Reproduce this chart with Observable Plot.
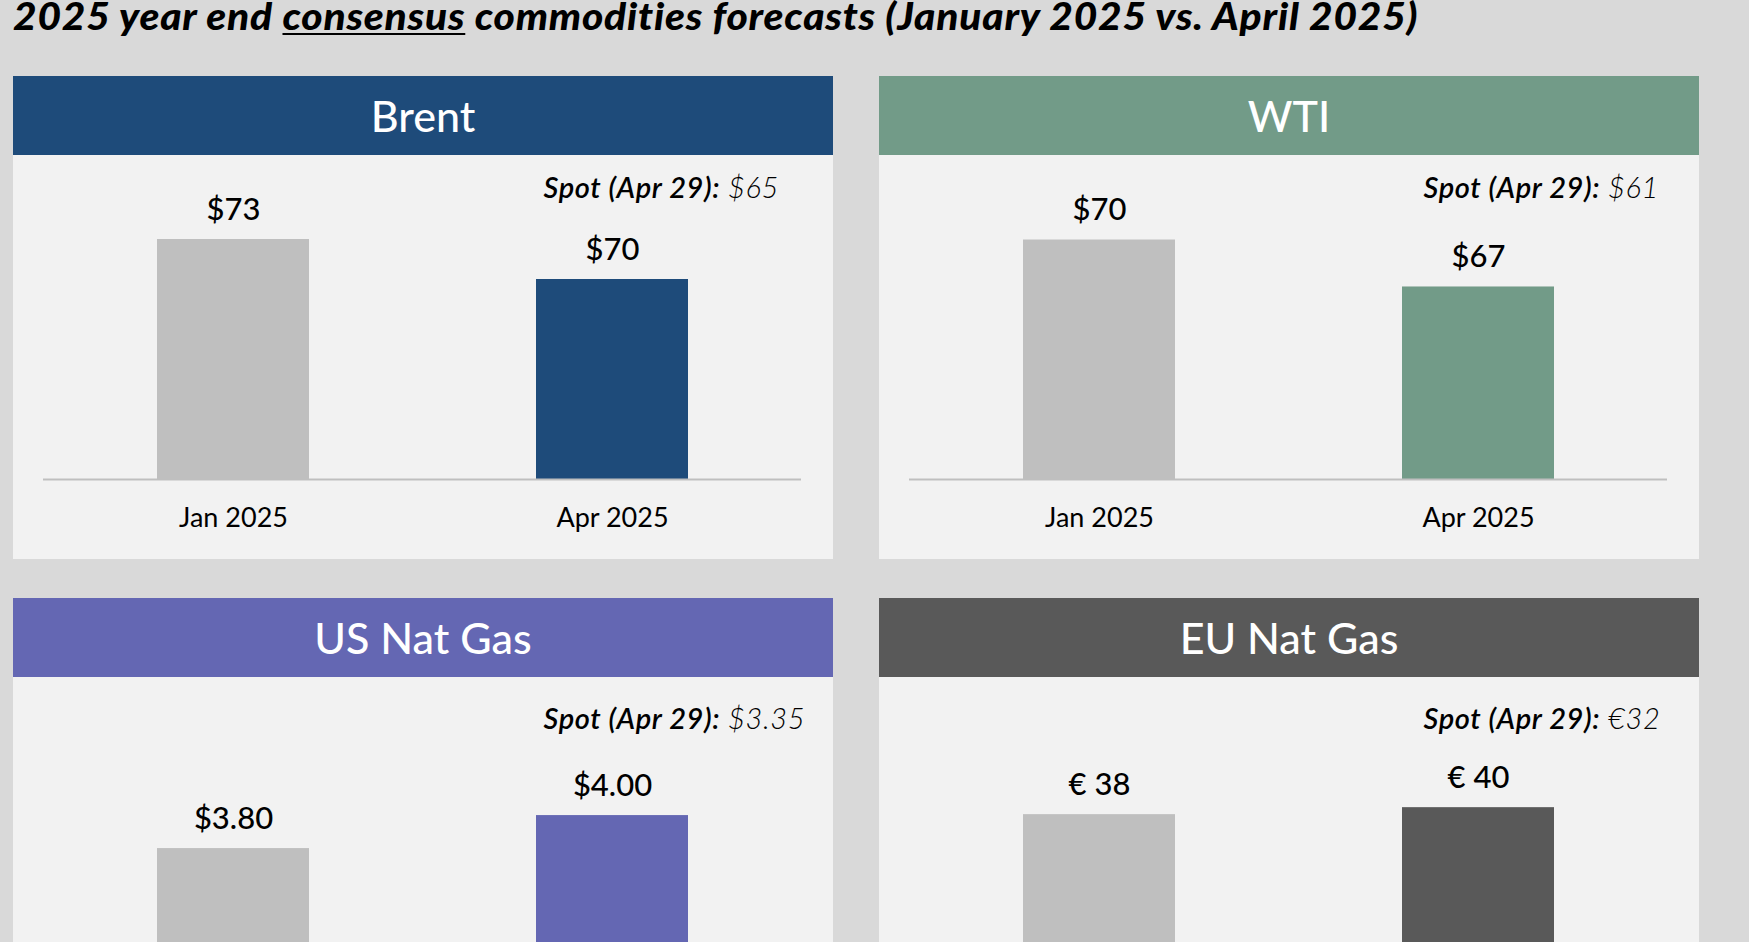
<!DOCTYPE html>
<html>
<head>
<meta charset="utf-8">
<script src="https://cdn.jsdelivr.net/npm/d3@7"></script>
<script src="https://cdn.jsdelivr.net/npm/@observablehq/plot@0.6"></script>
<style>
  html, body { margin: 0; padding: 0; }
  body {
    width: 1749px; height: 942px; overflow: hidden; position: relative;
    background: #d9d9d9; font-family: Lato, "Noto Sans", sans-serif; color: #000;
  }
  #title {
    position: absolute; left: 13px; top: -3px; margin: 0;
    font-family: Lato, sans-serif; font-style: italic; font-weight: 900;
    font-size: 37px; line-height: 37px; white-space: nowrap;
    transform-origin: 0 0;
  }
  #title u { text-decoration-thickness: 2px; text-underline-offset: 3px; }
  .panel { position: absolute; width: 820px; height: 483px; background: #f2f2f2; }
  .hdr {
    height: 79px; color: #fff; font-size: 43px; font-weight: 500;
    display: flex; align-items: center; justify-content: center;
  }
  .panel svg { display: block; }
</style>
</head>
<body>
<div id="title">2025 year end <u>consensus</u> commodities forecasts (January 2025 vs. April 2025)</div>
<script>
// ---- data ----
const commodities = ["Brent", "WTI", "US Nat Gas", "EU Nat Gas"];
const periods = ["Jan 2025", "Apr 2025"];
const janForecast = [73, 70, 3.80, 38];
const aprForecast = [70, 67, 4.00, 40];
const spotPrice = [65, 61, 3.35, 32];
const spotDate = "Apr 29";
const valuePrefix = ["$", "$", "$", "€ "];
const spotPrefix = ["$", "$", "$", "€"];
const decimals = [0, 0, 2, 0];
const headerColors = ["#1e4b7a", "#729b88", "#6467b3", "#595959"];
const priorColor = "#bfbfbf";
// value axis extents (the axis does not start at zero, as in the original)
const yDomains = [[55, 79.3], [54.7, 75.4], [2.873, 4.837], [-15.4, 77.2]];

// ---- layout ----
const panelLeft = [13, 879];
const panelTop = [76, 598];
const spotDx = [500, 514];
const spotDy = [42, 51];

// fit the title to the width of the original heading
(function fitTitle() {
  const el = document.getElementById("title");
  const target = 1405;
  const w = el.getBoundingClientRect().width;
  const n = el.textContent.length;
  const s = Math.min(1.1, target / w);
  el.style.transform = `scaleX(${s})`;
  el.style.letterSpacing = ((target / s - w) / n) + "px";
})();

commodities.forEach((name, i) => {
  const col = i % 2, row = Math.floor(i / 2);
  const fmt = v => valuePrefix[i] + v.toFixed(decimals[i]);
  const rows = periods.map((p, j) => {
    const v = j === 0 ? janForecast[i] : aprForecast[i];
    return {period: p, value: v, label: fmt(v)};
  });
  const spotLabel = `Spot (${spotDate}): ${spotPrefix[i]}${spotPrice[i].toFixed(decimals[i])}`;
  const y0 = yDomains[i][0];

  const panel = document.createElement("div");
  panel.className = "panel";
  panel.style.left = panelLeft[col] + "px";
  panel.style.top = panelTop[row] + "px";
  const hdr = document.createElement("div");
  hdr.className = "hdr";
  hdr.style.background = headerColors[i];
  hdr.textContent = name;
  panel.appendChild(hdr);

  const chart = Plot.plot({
    width: 820, height: 404,
    marginTop: 0, marginBottom: 80, marginLeft: 30, marginRight: 32,
    style: {background: "transparent", fontFamily: "Lato, sans-serif", color: "#000", overflow: "visible"},
    x: {domain: periods, paddingInner: 0.6, paddingOuter: 0.3},
    y: {domain: yDomains[i], axis: null},
    marks: [
      Plot.barY(rows.filter(d => d.period === periods[0]), {x: "period", y1: y0, y2: "value", fill: priorColor}),
      Plot.barY(rows.filter(d => d.period === periods[1]), {x: "period", y1: y0, y2: "value", fill: headerColors[i]}),
      Plot.ruleY([y0], {stroke: "#bfbfbf", strokeWidth: 2}),
      Plot.text(rows, {x: "period", y: "value", text: "label", lineAnchor: "bottom", dy: -20,
        fontSize: 31, fontWeight: 500, fill: "#000"}),
      Plot.text([spotLabel], {frameAnchor: "top-left", dx: spotDx[col], dy: spotDy[row],
        lineAnchor: "bottom", textAnchor: "start", fontSize: 29, fontStyle: "italic", fill: "#000"}),
      Plot.axisX({tickSize: 0, tickPadding: 28, fontSize: 27, label: null, fill: "#000"})
    ]
  });

  // mixed weights in the spot annotation
  d3.select(chart).selectAll("text")
    .filter(function () { return this.textContent.startsWith("Spot"); })
    .each(function () {
      const full = this.textContent;
      const k = full.indexOf(":") + 1;
      const t = d3.select(this);
      t.text(null).attr("letter-spacing", 0.6);
      t.append("tspan").attr("font-weight", 600).text(full.slice(0, k));
      t.append("tspan").attr("font-weight", 300).text(full.slice(k));
    });

  panel.appendChild(chart);
  document.body.appendChild(panel);
});
</script>
</body>
</html>
